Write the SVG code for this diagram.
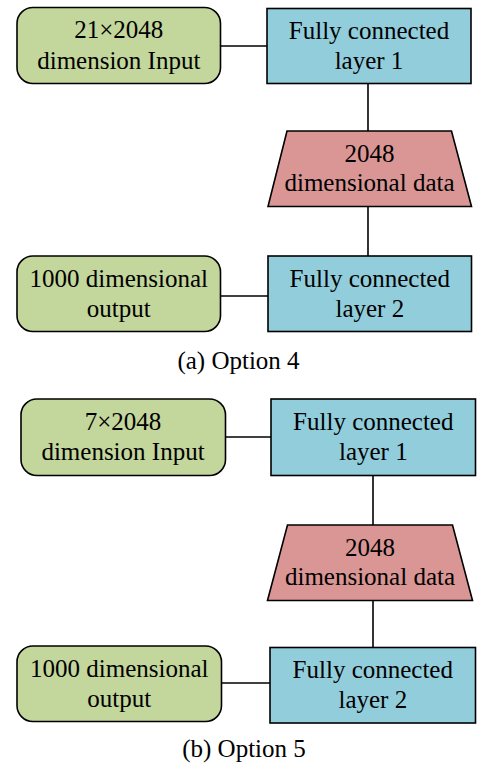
<svg xmlns="http://www.w3.org/2000/svg" width="477" height="768" viewBox="0 0 477 768">
  <style>
    .io { fill: #C3D69B; stroke: #000; stroke-width: 1.6; }
    .fc { fill: #92CDDC; stroke: #000; stroke-width: 1.6; }
    .data { fill: #D99694; stroke: #000; stroke-width: 1.6; }
    .link { stroke: #000; stroke-width: 1.6; fill: none; }
    text { font-family: "Liberation Serif", "Times New Roman", serif; font-size: 25px; fill: #000; text-anchor: middle; }
  </style>
  <rect width="477" height="768" fill="#fff"/>

  <!-- connectors -->
  <g id="connectors">
    <line class="link" x1="221" y1="46" x2="267" y2="46"/>
    <line class="link" x1="368" y1="83" x2="368" y2="131"/>
    <line class="link" x1="368" y1="207" x2="368" y2="256"/>
    <line class="link" x1="221" y1="296" x2="268" y2="296"/>
    <line class="link" x1="226" y1="437" x2="271" y2="437"/>
    <line class="link" x1="373" y1="476" x2="373" y2="525"/>
    <line class="link" x1="373" y1="601" x2="373" y2="647"/>
    <line class="link" x1="222" y1="683" x2="270" y2="683"/>
  </g>

  <!-- option 4 -->
  <g id="input-a">
    <rect class="io" x="17" y="7.5" width="203.5" height="76" rx="16"/>
    <text x="118.8" y="38">21×2048</text>
    <text x="118.8" y="68.5">dimension Input</text>
  </g>
  <g id="fc1-a">
    <rect class="fc" x="267" y="8.5" width="204" height="75"/>
    <text x="369" y="38.5">Fully connected</text>
    <text x="369" y="68.5">layer 1</text>
  </g>
  <g id="data-a">
    <polygon class="data" points="287,131 451.5,131 471.5,206.5 268,206.5"/>
    <text x="369.5" y="162">2048</text>
    <text x="369.5" y="191">dimensional data</text>
  </g>
  <g id="output-a">
    <rect class="io" x="17" y="256" width="203.5" height="75.5" rx="16"/>
    <text x="118.8" y="287">1000 dimensional</text>
    <text x="118.8" y="317">output</text>
  </g>
  <g id="fc2-a">
    <rect class="fc" x="268" y="256" width="203.5" height="75.5"/>
    <text x="369.8" y="287">Fully connected</text>
    <text x="369.8" y="317">layer 2</text>
  </g>
  <text id="caption-a" x="238.5" y="368.5">(a) Option 4</text>

  <!-- option 5 -->
  <g id="input-b">
    <rect class="io" x="21" y="399" width="204.5" height="76.5" rx="16"/>
    <text x="123" y="430">7×2048</text>
    <text x="123" y="460">dimension Input</text>
  </g>
  <g id="fc1-b">
    <rect class="fc" x="271" y="399" width="204.5" height="76.5"/>
    <text x="373.3" y="430">Fully connected</text>
    <text x="373.3" y="460">layer 1</text>
  </g>
  <g id="data-b">
    <polygon class="data" points="287.5,525 452.5,525 472.5,600.5 267.5,600.5"/>
    <text x="370" y="556">2048</text>
    <text x="370" y="585">dimensional data</text>
  </g>
  <g id="output-b">
    <rect class="io" x="17" y="646" width="204.5" height="75.5" rx="16"/>
    <text x="119.3" y="677">1000 dimensional</text>
    <text x="119.3" y="707">output</text>
  </g>
  <g id="fc2-b">
    <rect class="fc" x="270" y="647.5" width="205.5" height="75.5"/>
    <text x="372.8" y="677.5">Fully connected</text>
    <text x="372.8" y="707.5">layer 2</text>
  </g>
  <text id="caption-b" x="244" y="757">(b) Option 5</text>
</svg>
